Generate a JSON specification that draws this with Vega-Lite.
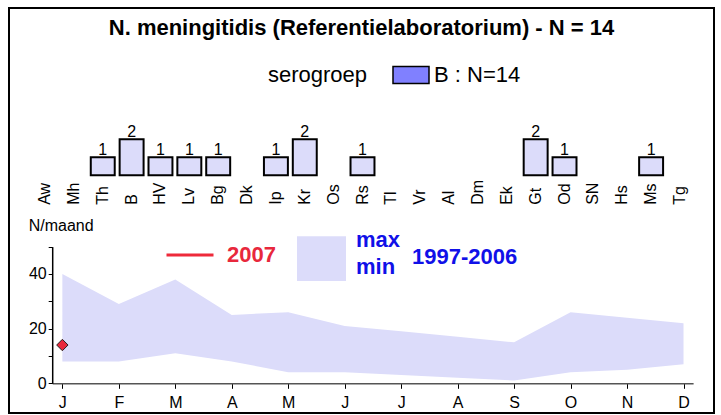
{
  "$schema": "https://vega.github.io/schema/vega-lite/v6.json",
  "width": 705,
  "height": 405,
  "autosize": "none",
  "padding": {"left": 9, "top": 8, "right": 7, "bottom": 2},
  "title": {
    "text": "N. meningitidis (Referentielaboratorium) - N = 14",
    "anchor": "middle",
    "frame": "group",
    "offset": -32,
    "font": "Liberation Sans",
    "fontSize": 22,
    "fontWeight": "bold",
    "color": "black"
  },
  "datasets": {
    "regions": [
      {"regio": "Aw", "n": 0}, {"regio": "Mh", "n": 0}, {"regio": "Th", "n": 1},
      {"regio": "B", "n": 2}, {"regio": "HV", "n": 1}, {"regio": "Lv", "n": 1},
      {"regio": "Bg", "n": 1}, {"regio": "Dk", "n": 0}, {"regio": "Ip", "n": 1},
      {"regio": "Kr", "n": 2}, {"regio": "Os", "n": 0}, {"regio": "Rs", "n": 1},
      {"regio": "Tl", "n": 0}, {"regio": "Vr", "n": 0}, {"regio": "Al", "n": 0},
      {"regio": "Dm", "n": 0}, {"regio": "Ek", "n": 0}, {"regio": "Gt", "n": 2},
      {"regio": "Od", "n": 1}, {"regio": "SN", "n": 0}, {"regio": "Hs", "n": 0},
      {"regio": "Ms", "n": 1}, {"regio": "Tg", "n": 0}
    ],
    "months": [
      {"maand": 1, "min": 8, "max": 40, "n2007": 14},
      {"maand": 2, "min": 8, "max": 29, "n2007": null},
      {"maand": 3, "min": 11, "max": 38, "n2007": null},
      {"maand": 4, "min": 8, "max": 25, "n2007": null},
      {"maand": 5, "min": 4, "max": 26, "n2007": null},
      {"maand": 6, "min": 4, "max": 21, "n2007": null},
      {"maand": 7, "min": 3, "max": 19, "n2007": null},
      {"maand": 8, "min": 2, "max": 17, "n2007": null},
      {"maand": 9, "min": 1, "max": 15, "n2007": null},
      {"maand": 10, "min": 4, "max": 26, "n2007": null},
      {"maand": 11, "min": 5, "max": 24, "n2007": null},
      {"maand": 12, "min": 7, "max": 22, "n2007": null}
    ]
  },
  "layer": [
    {
      "data": {"name": "regions"},
      "layer": [
        {
          "transform": [{"filter": "datum.n > 0"}],
          "mark": {"type": "bar", "fill": "#dcdcfa", "stroke": "black", "strokeWidth": 2},
          "encoding": {
            "x": {
              "field": "regio", "type": "nominal", "sort": null,
              "scale": {
                "domain": ["Aw","Mh","Th","B","HV","Lv","Bg","Dk","Ip","Kr","Os","Rs","Tl","Vr","Al","Dm","Ek","Gt","Od","SN","Hs","Ms","Tg"],
                "range": [21.6, 685.4], "paddingInner": 0.17, "paddingOuter": 0.085
              },
              "axis": {
                "orient": "bottom", "offset": -237.7, "title": null,
                "labelAngle": -90, "labelAlign": "left", "labelBaseline": "middle",
                "labelPadding": 29, "ticks": false, "tickSize": 0, "domain": false,
                "labelFontSize": 16, "labelFont": "Liberation Sans", "labelColor": "black"
              }
            },
            "y": {
              "field": "n", "type": "quantitative",
              "scale": {"domain": [0, 2], "range": [167.3, 131.3], "nice": false},
              "axis": null
            }
          }
        },
        {
          "transform": [{"filter": "datum.n > 0"}],
          "mark": {"type": "text", "baseline": "alphabetic", "dy": -2, "font": "Liberation Sans", "fontSize": 16, "color": "black"},
          "encoding": {
            "x": {"field": "regio", "type": "nominal", "sort": null},
            "y": {"field": "n", "type": "quantitative"},
            "text": {"field": "n", "type": "quantitative"}
          }
        },
        {
          "transform": [{"filter": "false"}],
          "mark": {"type": "point", "filled": true, "shape": "M-1,-0.472H1V0.472H-1Z", "stroke": "black", "strokeWidth": 1.5},
          "encoding": {
            "color": {
              "field": "serogroep", "type": "nominal",
              "scale": {"domain": ["B : N=14"], "range": ["#8080ff"]},
              "legend": {
                "orient": "none", "legendX": 259, "legendY": 48,
                "title": "serogroep", "titleOrient": "left", "titlePadding": 24,
                "titleFont": "Liberation Sans", "titleFontSize": 22, "titleFontWeight": "normal", "titleColor": "black",
                "titleBaseline": "line-top", "titleLineHeight": 9,
                "labelFont": "Liberation Sans", "labelFontSize": 22, "labelColor": "black", "labelOffset": 4,
                "symbolType": "M-1,-0.472H1V0.472H-1Z", "symbolSize": 1296,
                "symbolStrokeColor": "black", "symbolStrokeWidth": 1.5, "symbolOpacity": 1
              }
            }
          }
        }
      ]
    },
    {
      "data": {"name": "months"},
      "layer": [
        {
          "mark": {"type": "area", "opacity": 1},
          "encoding": {
            "x": {
              "field": "maand", "type": "quantitative",
              "scale": {"domain": [0.82, 12.17], "range": [43.2, 684.1], "nice": false, "zero": false},
              "axis": {
                "orient": "bottom", "offset": -29.7, "title": null,
                "values": [1,2,3,4,5,6,7,8,9,10,11,12],
                "labelExpr": "['J','F','M','A','M','J','J','A','S','O','N','D'][datum.value-1]",
                "tickSize": 5, "tickColor": "black", "domainColor": "#555", "domainWidth": 1.5,
                "labelFontSize": 16, "labelFont": "Liberation Sans", "labelColor": "black", "labelPadding": 6
              }
            },
            "y": {
              "field": "max", "type": "quantitative",
              "scale": {"domain": [0, 50], "range": [375.3, 238.6], "nice": false},
              "axis": {
                "orient": "left", "offset": -43.2,
                "values": [0, 10, 20, 30, 40, 50],
                "labelExpr": "datum.value % 20 == 0 ? datum.label : ''",
                "title": "N/maand", "titleAngle": 0, "titleX": -24, "titleY": 217,
                "titleAlign": "left", "titleBaseline": "middle",
                "titleFont": "Liberation Sans", "titleFontSize": 16, "titleFontWeight": "normal", "titleColor": "black",
                "tickSize": 4, "tickColor": "black", "domainColor": "black", "domainWidth": 1.5,
                "labelFontSize": 16, "labelFont": "Liberation Sans", "labelColor": "black", "labelPadding": 2
              }
            },
            "y2": {"field": "min"},
            "fill": {
              "datum": "max/min", "type": "nominal",
              "scale": {"range": ["#dcdcfa"]},
              "legend": {
                "orient": "none", "legendX": 288, "legendY": 207,
                "title": "1997-2006", "titleOrient": "right", "titlePadding": 12,
                "titleFont": "Liberation Sans", "titleFontSize": 22, "titleFontWeight": "bold", "titleColor": "#1010e8",
                "titleBaseline": "line-top", "titleLineHeight": 19,
                "labelExpr": "['max','min']",
                "labelFont": "Liberation Sans", "labelFontSize": 22, "labelFontWeight": "bold", "labelColor": "#1010e8", "labelOffset": 10,
                "symbolType": "M-1,-0.13H1V1.69H-1Z", "symbolSize": 2401, "symbolStrokeWidth": 0, "symbolOpacity": 1
              }
            }
          }
        },
        {
          "mark": {"type": "line", "strokeWidth": 3},
          "encoding": {
            "x": {"field": "maand", "type": "quantitative"},
            "y": {"field": "n2007", "type": "quantitative"},
            "stroke": {
              "datum": "2007", "type": "nominal",
              "scale": {"range": ["#ee2a3a"]},
              "legend": {
                "orient": "none", "legendX": 156, "legendY": 222, "title": null,
                "labelFont": "Liberation Sans", "labelFontSize": 22, "labelFontWeight": "bold", "labelColor": "#e8283c", "labelOffset": 12,
                "symbolType": "stroke", "symbolSize": 2209, "symbolStrokeWidth": 3
              }
            }
          }
        },
        {
          "mark": {"type": "point", "shape": "diamond", "filled": true, "fill": "#e8283c", "stroke": "#222", "strokeWidth": 1, "size": 130, "opacity": 1},
          "encoding": {
            "x": {"field": "maand", "type": "quantitative"},
            "y": {"field": "n2007", "type": "quantitative"}
          }
        }
      ]
    }
  ],
  "resolve": {
    "scale": {"x": "independent", "y": "independent"},
    "axis": {"x": "independent", "y": "independent"}
  },
  "config": {
    "font": "Liberation Sans",
    "view": {"stroke": "black", "strokeWidth": 2},
    "axis": {"grid": false},
    "style": {"guide-label": {"lineHeight": 27}}
  }
}
